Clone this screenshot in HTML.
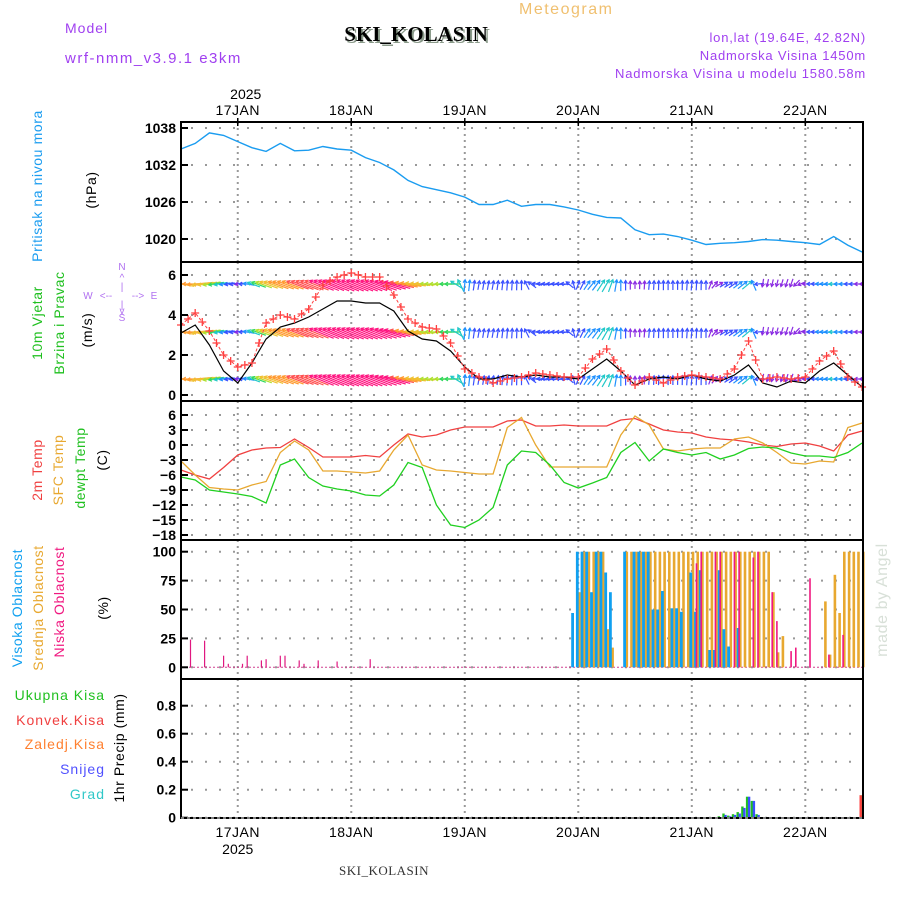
<!DOCTYPE html>
<html><head><meta charset="utf-8"><title>Meteogram SKI_KOLASIN</title>
<style>
html,body{margin:0;padding:0;background:#fff;}
svg{display:block;font-family:"Liberation Sans",sans-serif;}
</style></head>
<body>
<svg id="chart" width="900" height="900" viewBox="0 0 900 900" xmlns="http://www.w3.org/2000/svg">
  <defs><clipPath id="plotclip"><rect x="182" y="263" width="680" height="137"/></clipPath></defs>
  <g>
    <text x="65" y="33" font-size="14" fill="#a040f0" letter-spacing="1">Model</text>
    <text x="65" y="63" font-size="15" fill="#a040f0" letter-spacing="1.5">wrf-nmm_v3.9.1 e3km</text>
    <text x="519" y="14" font-size="16" fill="#f0c070" letter-spacing="1.5">Meteogram</text>
    <text x="418" y="43" font-size="21" font-weight="bold" font-family="Liberation Serif,serif" text-anchor="middle" fill="#8a9a8a">SKI_KOLASIN</text>
    <text x="416" y="41" font-size="21" font-weight="bold" font-family="Liberation Serif,serif" text-anchor="middle" fill="#000">SKI_KOLASIN</text>
    <text x="866" y="42" font-size="13" fill="#a040f0" text-anchor="end" letter-spacing="0.8">lon,lat (19.64E, 42.82N)</text>
    <text x="866" y="60" font-size="13" fill="#a040f0" text-anchor="end" letter-spacing="0.8">Nadmorska Visina 1450m</text>
    <text x="866" y="78" font-size="13" fill="#a040f0" text-anchor="end" letter-spacing="0.8">Nadmorska Visina u modelu 1580.58m</text>
  </g>
  <g id="grid"></g>
  <g id="series"></g>
  <g id="frames"></g>
  <g id="axes"></g>
  <g id="labels"></g>
</svg>
<script>
// ---------- DATA ----------
const dayLabels = ["17JAN","18JAN","19JAN","20JAN","21JAN","22JAN"];
const dayHours = [12,36,60,84,108,132];           // hours since 16JAN 12Z
const seriesStep = 3;                                // 3-hourly series
const pressure = [1034.6,1035.5,1037.2,1036.8,1035.8,1034.8,1034.2,1035.5,1034.3,1034.4,1035.0,1034.6,1034.4,1033.2,1032.4,1031.2,1029.5,1028.5,1028.0,1027.5,1026.8,1025.6,1025.6,1026.3,1025.3,1025.6,1025.6,1025.2,1024.7,1024.0,1023.5,1023.4,1021.5,1020.7,1020.8,1020.4,1019.8,1019.1,1019.3,1019.4,1019.6,1019.9,1019.8,1019.6,1019.4,1019.1,1020.4,1019.0,1017.9];
const pressureTicks = [1038,1032,1026,1020];
const windSpeed = [3.1,3.5,2.5,1.2,0.6,1.6,2.8,3.4,3.6,3.9,4.3,4.7,4.7,4.6,4.6,4.2,3.2,2.8,2.7,2.2,1.4,0.8,0.8,1.0,0.9,1.0,0.9,0.9,0.8,1.3,1.8,1.2,0.5,0.8,0.9,0.8,1.0,0.8,0.7,1.0,1.5,0.6,0.4,0.7,0.6,1.2,1.6,1.0,0.4];
const windGust = [3.5,4.1,3.2,2.0,1.4,1.6,3.6,4.0,3.8,4.3,5.5,5.9,6.1,5.9,5.9,5.0,3.8,3.4,3.3,2.6,1.3,0.9,0.6,0.8,0.9,1.1,1.0,0.9,0.9,1.8,2.3,1.2,0.5,0.9,0.6,0.9,1.0,0.9,0.8,1.3,2.7,0.8,0.9,0.8,0.9,1.7,2.2,0.9,0.4];
const windDir = [100,85,80,80,80,110,110,110,110,112,112,112,112,112,110,105,100,95,90,90,185,190,190,185,180,100,95,95,200,220,210,180,180,185,180,180,185,180,240,235,230,10,15,20,90,95,90,90,90];
const windTicks = [0,2,4,6];
const windRows = [5.55,3.15,0.8];
const temp2m = [-5,-6,-6.8,-4.5,-2,-1,-0.6,-0.5,1.2,-0.5,-2.4,-2.4,-2.4,-2.1,-2.4,0,2.2,1.6,2,3,3.6,3.6,3.6,4.8,5,3.8,3.8,4,3.8,3.8,3.8,5,5.3,4.2,3,2.6,2.4,1.6,1.2,1,0.6,0,-0.3,0.2,0.4,-0.2,-1.2,2,2.8];
const tempSfc = [-3.2,-6,-8.5,-8.8,-9,-8,-7.3,-1.5,0.8,-1,-5.2,-5.2,-5.4,-5.6,-5.2,-1,2,-4,-5,-5.2,-5.5,-5.8,-5.8,3.5,5.5,0,-4.4,-4.4,-4.4,-4.4,-4.4,2,5.8,4,-0.8,-1.2,-0.8,-0.6,-0.6,1.2,1.6,0.4,-1.5,-3.6,-3.8,-3.2,-3.4,3.5,4.4];
const tempDew = [-6.4,-7,-9,-9.4,-9.8,-10.3,-11.6,-4,-2.8,-6.5,-8.2,-8.8,-9.2,-10,-10.2,-8,-3.5,-4.5,-12,-16,-16.5,-15,-12.5,-4,-1.2,-1.5,-4,-7.5,-8.6,-7.6,-6.5,-1.5,0.5,-3.2,-0.8,-1.5,-2,-1.5,-2.8,-2,-0.7,-0.4,-0.6,-1.6,-2.2,-2.2,-2.5,-1.5,0.4];
const tempTicks = [6,3,0,-3,-6,-9,-12,-15,-18];
const cloudStartHour = 83;
const highCloud = [47,100,100,100,65,100,100,82,65,0,0,100,0,100,100,100,100,50,50,66,0,51,51,48,0,82,48,84,0,15,15,84,33,18,0,34,0,0,0,0,0,0,0,0,0,0,0,0,0,0,0,0,0,0,0,0,0,0,0,0,0,0];
const midCloud = [0,65,100,100,100,100,100,33,17,0,0,100,100,100,100,100,100,100,100,100,100,100,100,100,100,100,100,100,100,100,100,100,100,100,100,100,100,100,100,100,100,100,65,13,27,0,0,0,0,0,0,0,0,57,11,80,47,100,100,100,100,100];
const lowCloud = [0,0,0,0,0,0,0,0,0,0,0,0,0,0,0,0,0,0,0,0,0,0,0,0,0,0,90,100,0,0,100,100,0,0,100,100,0,0,95,100,0,0,65,40,0,0,14,17,0,0,77,0,0,0,11,0,0,28,0,0,0,0];
const earlyLowHours = [2,5,9,10,13,14,17,18,21,22,25,26,29,33,40];
const earlyLowVals = [24,23,10,3,3,10,6,7,10,10,6,3,6,5,7];
const cloudTicks = [0,25,50,75,100];
const precipHours = [114,115,116,117,118,119,120,121,122,127,144];
const precipTotal = [0.01,0.03,0.015,0.025,0.04,0.08,0.15,0.12,0.025,0.005,0.16];
const precipSnow = [0.005,0.02,0.01,0.02,0.03,0.07,0.15,0.12,0.02,0,0];
const precipConv = [0,0,0,0,0,0,0,0,0,0,0.16];
const precipTicks = [0,0.2,0.4,0.6,0.8];

// ---------- LAYOUT ----------
const X0 = 181, X1 = 863, HMAX = 144.2;
const NS = "http://www.w3.org/2000/svg";
function xAt(h){ return X0 + (h/HMAX)*(X1-X0); }
function lin(d0,d1,r0,r1){ return v => r0 + (v-d0)/(d1-d0)*(r1-r0); }
const panels = [
  {top:122,bot:262,y:lin(1038,1020,128,239)},
  {top:262,bot:401,y:lin(6,0,275,395)},
  {top:401,bot:540,y:lin(6,-18,415,535)},
  {top:540,bot:679,y:lin(100,0,551.7,667.3)},
  {top:679,bot:818,y:lin(0.8,0,705.7,817.7)}
];
function el(tag, attrs, parent){
  const e = document.createElementNS(NS, tag);
  for (const k in attrs) e.setAttribute(k, attrs[k]);
  if (parent) parent.appendChild(e);
  return e;
}
const gGrid = document.getElementById('grid');
const gSer = document.getElementById('series');
const gFr = document.getElementById('frames');
const gAx = document.getElementById('axes');
const gLab = document.getElementById('labels');

// grid
panels.forEach((p,pi)=>{
  dayHours.forEach(h=>{
    const l = el('line',{x1:xAt(h),x2:xAt(h),y1:p.top,y2:p.bot,stroke:'#999','stroke-width':2,'stroke-dasharray':'2,4'},gGrid);
    
    
  });
});
function hGrid(p, ticks, fmt){
  ticks.forEach(t=>{
    const y = p.y(t);
    const l = el('line',{x1:X0+10,x2:X1,y1:y,y2:y,stroke:'#999','stroke-width':2,'stroke-dasharray':'2,12'},gGrid);
    
    
    const tk = el('line',{x1:X0,x2:X0+7,y1:y,y2:y,stroke:'#000','stroke-width':2},gAx);
    
    
    const tx = el('text',{x:X0-5,y:y+5,'font-size':14,'text-anchor':'end',fill:'#000','font-weight':'bold'},gAx);
    tx.textContent = fmt(t);
    
    
  });
}
hGrid(panels[0], pressureTicks, t=>String(t));
hGrid(panels[1], windTicks, t=>String(t));
hGrid(panels[2], tempTicks, t=>t<0?'\u2212'+Math.abs(t):String(t));
hGrid(panels[3], cloudTicks, t=>String(t));
hGrid(panels[4], precipTicks, t=>String(t));

// frames
panels.forEach((p,pi)=>{
  const r = el('rect',{x:X0,y:p.top,width:X1-X0,height:p.bot-p.top,fill:'none',stroke:'#000','stroke-width':2},gFr);
  
  
});

// x axis labels
dayHours.forEach((h,i)=>{
  const x = xAt(h);
  const t1 = el('text',{x:x,y:115,'font-size':14,'text-anchor':'middle',fill:'#000','letter-spacing':'0.5'},gAx);
  t1.textContent = dayLabels[i];
  
  
  const t2 = el('text',{x:x,y:837,'font-size':14,'text-anchor':'middle',fill:'#000','letter-spacing':'0.5'},gAx);
  t2.textContent = dayLabels[i];
  
  
  const tk = el('line',{x1:x,x2:x,y1:118,y2:126,stroke:'#000','stroke-width':1.5},gAx);
  
  
});
(function(){
  const a = el('text',{x:xAt(12)+8,y:99,'font-size':14,'text-anchor':'middle',fill:'#000'},gAx);
  a.textContent = '2025';
  
  
  const b = el('text',{x:xAt(12),y:854,'font-size':14,'text-anchor':'middle',fill:'#000'},gAx);
  b.textContent = '2025';
  
  
  const c = el('text',{x:384,y:875,'font-size':13,'text-anchor':'middle',fill:'#333','font-family':'Liberation Serif,serif','letter-spacing':'0.5'},gAx);
  c.textContent = 'SKI_KOLASIN';
  
  
  const bl = el('line',{x1:X0,x2:X1,y1:818,y2:818,stroke:'#fff','stroke-width':1,'stroke-dasharray':'3,3'},gAx);
  
  
})();

function polyline(vals, p, color, name, width){
  const pts = vals.map((v,i)=>xAt(i*seriesStep).toFixed(1)+','+p.y(v).toFixed(1)).join(' ');
  const pl = el('polyline',{points:pts,fill:'none',stroke:color,'stroke-width':width||1.3},gSer);
  
  
  return pl;
}
// panel 1
polyline(pressure, panels[0], '#1a9cf0', 'pressure-line', 1.4);

// panel 2 wind arrows
function windColor(s){
  if (s<0.8) return '#8a2be2';
  if (s<1.1) return '#3a50ff';
  if (s<1.5) return '#1e90ff';
  if (s<2.0) return '#20c8c8';
  if (s<2.4) return '#30d860';
  if (s<2.8) return '#b0e030';
  if (s<3.2) return '#f0c030';
  if (s<3.6) return '#ff9a30';
  if (s<4.1) return '#ff5050';
  return '#ff1480';
}
const gWind = el('g',{'clip-path':'url(#plotclip)'},gSer);


for (let k=0;k<(windSpeed.length-1)*3+1;k++){
  const i = Math.floor(k/3), f = (k%3)/3;
  const j = Math.min(i+1, windSpeed.length-1);
  const s = windSpeed[i]*(1-f)+windSpeed[j]*f;
  const d = windDir[i]*(1-f)+windDir[j]*f;
  const h = k;
  const rad = d*Math.PI/180;
  const L = 5 + s*5;
  const ux = -Math.sin(rad), uy = Math.cos(rad); // screen coords (y down): wind toward
  windRows.forEach(r=>{
    const cx = xAt(h), cy = panels[1].y(r);
    const hx = cx + ux*L*0.35, hy = cy + uy*L*0.35;
    const tx = cx - ux*L*0.65, ty = cy - uy*L*0.65;
    const c = windColor(s);
    const ln = el('line',{x1:tx.toFixed(1),y1:ty.toFixed(1),x2:hx.toFixed(1),y2:hy.toFixed(1),stroke:c,'stroke-width':1.2},gWind);
    
    
    const a1 = Math.atan2(uy,ux);
    const hd = el('polyline',{points:[hx+Math.cos(a1+2.6)*3.5,hy+Math.sin(a1+2.6)*3.5,hx,hy,hx+Math.cos(a1-2.6)*3.5,hy+Math.sin(a1-2.6)*3.5].map(v=>v.toFixed(1)).join(' '),fill:'none',stroke:c,'stroke-width':1.2},gWind);
    
    
  });
}
polyline(windSpeed, panels[1], '#000', 'wind-speed-line', 1.2);
polyline(windGust, panels[1], '#ff4040', 'wind-gust-line', 1.0).setAttribute('stroke-dasharray','3,2');
for (let k=0;k<(windGust.length-1)*2+1;k++){
  const i = Math.floor(k/2), f=(k%2)/2, j=Math.min(i+1,windGust.length-1);
  const v = windGust[i]*(1-f)+windGust[j]*f;
  const x = xAt(k*1.5), y = panels[1].y(v);
  const m = el('path',{d:`M${x-4} ${y}H${x+4}M${x} ${y-4}V${y+4}`,stroke:'#ff4040','stroke-width':1.3},gSer);
  
  
}

// panel 3 temps
polyline(temp2m, panels[2], '#f04040', 'temp-2m-line', 1.3);
polyline(tempSfc, panels[2], '#e8a830', 'temp-sfc-line', 1.3);
polyline(tempDew, panels[2], '#20d020', 'dewpoint-line', 1.3);

// panel 4 clouds
const p4 = panels[3];
function bar(h, v, color, w, dx, name){
  if (!v) return;
  const x = xAt(h)+dx, y = p4.y(v);
  const r = el('rect',{x:(x-w/2).toFixed(1),y:y.toFixed(1),width:w,height:(p4.y(0)-y).toFixed(1),fill:color},gSer);
  
  
}
(function(){
  const bl = el('line',{x1:X0,x2:X1,y1:p4.y(0),y2:p4.y(0),stroke:'#d04090','stroke-width':1,'stroke-dasharray':'2,2'},gSer);
  
  
})();
midCloud.forEach((v,i)=>bar(cloudStartHour+i, v, '#e8a830', 2.6, 1.2, 'mid-cloud-bar'));
highCloud.forEach((v,i)=>bar(cloudStartHour+i, v, '#10a0f0', 2.8, -1.0, 'high-cloud-bar'));
lowCloud.forEach((v,i)=>bar(cloudStartHour+i, v, '#f01880', 1.6, 0, 'low-cloud-bar'));
earlyLowHours.forEach((h,i)=>bar(h, earlyLowVals[i], '#e01880', 1.2, 0, 'low-cloud-bar'));

// panel 5 precip
const p5 = panels[4];
precipHours.forEach((h,i)=>{
  const x = xAt(h);
  [[precipTotal[i],'#20c020',-1.6,'precip-total-bar'],[precipSnow[i],'#3a50ff',0.4,'precip-snow-bar'],[precipConv[i],'#ff4040',-1.6,'precip-conv-bar']].forEach(([v,c,dx,n])=>{
    if (!v) return;
    const y = p5.y(v);
    const r = el('rect',{x:(x+dx-1).toFixed(1),y:y.toFixed(1),width:2.4,height:(p5.y(0)-y).toFixed(1),fill:c},gSer);
    
    
  });
});

// axis titles
function vtext(x,y,txt,color,name,size){
  const t = el('text',{x:0,y:0,transform:`translate(${x},${y}) rotate(-90)`,'font-size':size||14,'text-anchor':'middle',fill:color,'letter-spacing':'0.6'},gLab);
  t.textContent = txt;
  
  
}
function htext(x,y,txt,color,name,anchor,size){
  const t = el('text',{x:x,y:y,'font-size':size||14,'text-anchor':anchor||'end',fill:color,'letter-spacing':'1'},gLab);
  t.textContent = txt;
  
  
}
vtext(42,186,'Pritisak na nivou mora','#1a9cf0','pressure-title');
vtext(96,190,'(hPa)','#000','pressure-unit');
vtext(42,323,'10m Vjetar','#20c020','wind-title-1');
vtext(64,323,'Brzina i Pravac','#20c020','wind-title-2');
vtext(92,330,'(m/s)','#000','wind-unit');
(function(){
  const g = el('g',{fill:'#b070f0','font-size':10},gLab);
  
  
  const items = [[122,270,'N'],[122,321,'S'],[88,299,'W'],[154,299,'E'],[122,281,'^'],[122,290,'|'],[122,308,'|'],[122,314,'v'],[106,299,'<--'],[138,299,'-->']];
  items.forEach(([x,y,s])=>{ const t=el('text',{x:x,y:y,'text-anchor':'middle'},g); t.textContent=s; });
})();
vtext(42,470,'2m Temp','#f04040','temp-2m-title');
vtext(63,470,'SFC Temp','#e8a830','temp-sfc-title');
vtext(85,468,'dewpt Temp','#20c020','dewpoint-title');
vtext(107,460,'(C)','#000','temp-unit');
vtext(22,608,'Visoka Oblacnost','#10a0f0','high-cloud-title');
vtext(43,608,'Srednja Oblacnost','#e8a830','mid-cloud-title');
vtext(64,602,'Niska Oblacnost','#f01880','low-cloud-title');
vtext(108,608,'(%)','#000','cloud-unit');
htext(105,700,'Ukupna Kisa','#20c020','legend-total-precip','end');
htext(105,725,'Konvek.Kisa','#f04040','legend-convective-precip','end');
htext(105,749,'Zaledj.Kisa','#ff8030','legend-freezing-precip','end');
htext(105,774,'Snijeg','#5050ff','legend-snow','end');
htext(105,799,'Grad','#30c8c8','legend-hail','end');
vtext(124,748,'1hr Precip (mm)','#000','precip-title');
vtext(887,600,'made by Angel','#d8e0d8','watermark',16);
</script>
</body></html>
